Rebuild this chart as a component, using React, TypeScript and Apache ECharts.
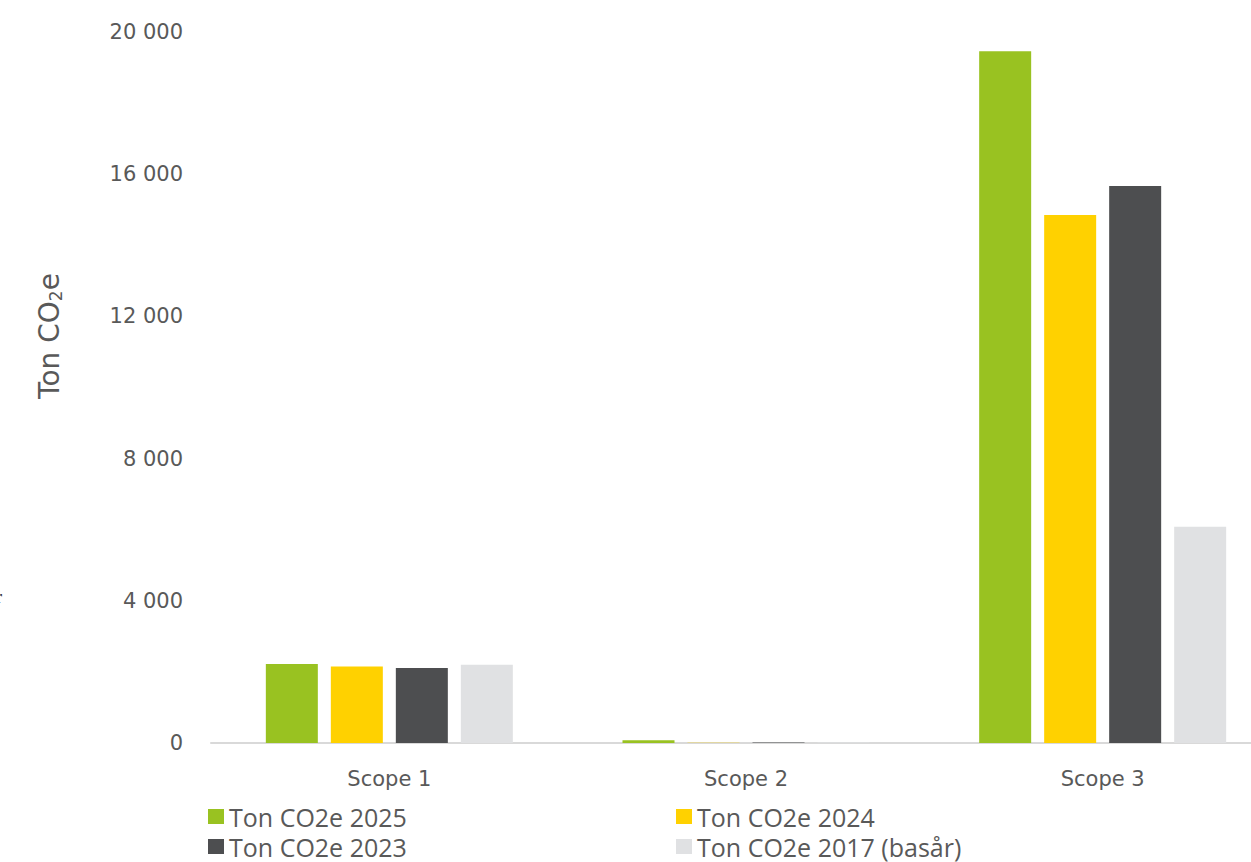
import React, { useEffect, useRef } from "react";
import * as echarts from "echarts";

const categories = ["Scope 1", "Scope 2", "Scope 3"];
const seriesNames = ["Ton CO2e 2025", "Ton CO2e 2024", "Ton CO2e 2023", "Ton CO2e 2017 (basår)"];
const values2025 = [2220, 80, 19460];
const values2024 = [2150, 5, 14850];
const values2023 = [2110, 15, 15670];
const values2017 = [2200, 15, 6080];
const colors = ["#99c221", "#ffd100", "#4d4e50", "#e0e1e3"];
const yTicks = [0, 4000, 8000, 12000, 16000, 20000];

export default function App() {
  const ref = useRef<HTMLDivElement>(null);
  useEffect(() => {
    if (!ref.current) return;
    const chart = echarts.init(ref.current, undefined, { renderer: "svg" });
    const all = [values2025, values2024, values2023, values2017];
    const fmt = (v: number) => {
      const s = String(v);
      return s.length > 3 ? s.slice(0, s.length - 3) + " " + s.slice(-3) : s;
    };
    const axisFont = "'DejaVu Sans', sans-serif";
    const legendText = {
      color: "#595959",
      fontSize: 25,
      lineHeight: 25,
      fontFamily: "'Open Sans', sans-serif",
    };
    const legendBase = {
      top: 799,
      orient: "vertical",
      height: 70,
      itemWidth: 16,
      itemHeight: 15,
      itemGap: 5,
      icon: "rect",
      textStyle: legendText,
    };
    chart.setOption({
      animation: false,
      backgroundColor: "#ffffff",
      grid: { left: 211, right: 0, top: 32, bottom: 119, containLabel: false },
      legend: [
        { ...legendBase, left: 203, data: [seriesNames[0], seriesNames[2]] },
        { ...legendBase, left: 671, data: [seriesNames[1], seriesNames[3]] },
      ],
      xAxis: {
        type: "category",
        data: categories,
        axisLine: { lineStyle: { color: "#d9d9d9", width: 2 } },
        axisTick: { show: false },
        axisLabel: {
          color: "#595959",
          fontSize: 21,
          fontFamily: axisFont,
          margin: 25,
        },
      },
      yAxis: {
        type: "value",
        min: 0,
        max: 20000,
        interval: 4000,
        axisLine: { show: false },
        axisTick: { show: false },
        splitLine: { show: false },
        axisLabel: {
          color: "#595959",
          fontSize: 21,
          fontFamily: axisFont,
          margin: 28,
          formatter: (v: number) => (yTicks.includes(v) ? fmt(v) : ""),
        },
      },
      graphic: [
        {
          type: "text",
          x: 49,
          y: 336,
          rotation: Math.PI / 2,
          style: {
            text: "{a|Ton CO}{b|2}{a|e}",
            rich: {
              a: { fontSize: 28, fill: "#595959", fontFamily: axisFont },
              b: { fontSize: 17, fill: "#595959", fontFamily: axisFont, padding: [14, 0, 0, 0] },
            },
            align: "center",
            verticalAlign: "middle",
          },
        },
        {
          type: "text",
          x: -4,
          y: 588,
          style: { text: "r", fontSize: 18, fill: "#000", fontFamily: "serif" },
        },
      ],
      series: seriesNames.map((name, i) => ({
        name,
        type: "bar",
        data: all[i],
        barWidth: 52,
        barGap: "25%",
        itemStyle: { color: colors[i] },
      })),
    });
    return () => chart.dispose();
  }, []);
  return (
    <div style={{ position: "absolute", left: 0, top: 0, width: 1251, height: 862, overflow: "hidden" }}>
      <div ref={ref} style={{ width: 1281, height: 862 }} />
    </div>
  );
}
